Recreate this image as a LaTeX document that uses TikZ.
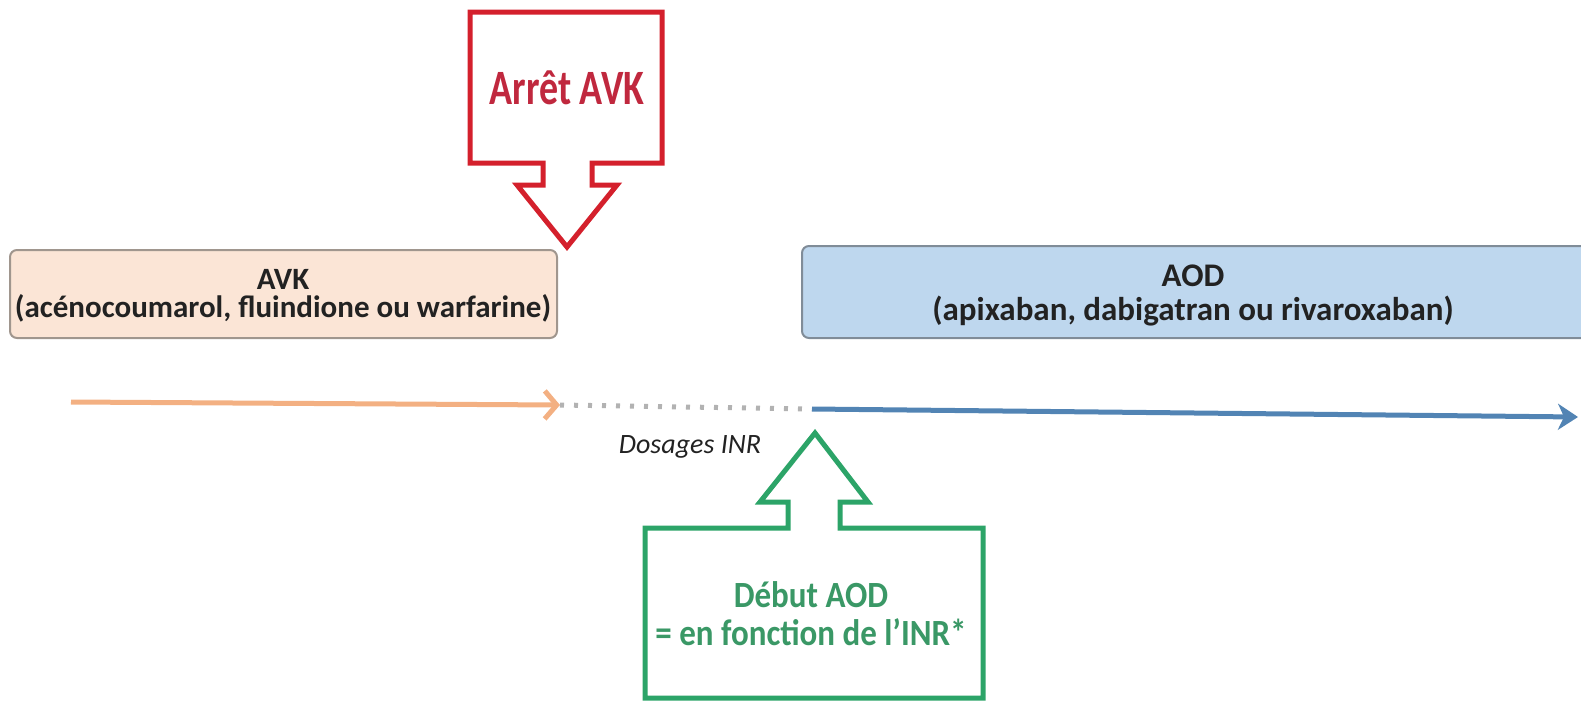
\documentclass[tikz,border=0pt]{standalone}
\usepackage{fontspec}
\setmainfont{Carlito}
\usetikzlibrary{arrows.meta}
\definecolor{calloutred}{RGB}{212,32,44}
\definecolor{textred}{RGB}{192,40,62}
\definecolor{calloutgreen}{RGB}{44,164,104}
\definecolor{textgreen}{RGB}{58,152,102}
\definecolor{avkfill}{RGB}{251,229,214}
\definecolor{avkline}{RGB}{160,150,142}
\definecolor{aodfill}{RGB}{190,215,238}
\definecolor{aodline}{RGB}{128,140,152}
\definecolor{avkarrow}{RGB}{243,176,130}
\definecolor{aodarrow}{RGB}{82,132,180}
\definecolor{inrdots}{RGB}{178,178,178}
\definecolor{bodytext}{RGB}{34,34,34}
\tikzset{
  callout/.style={line width=5pt, line join=miter, fill=white},
  drugbox/.style={line width=2pt, rounded corners=7pt},
  drugtext/.style={text=bodytext, inner sep=0pt, anchor=base},
  avkfont/.style={font=\bfseries\fontsize{31}{36}\selectfont},
  aodfont/.style={font=\bfseries\fontsize{33}{38}\selectfont},
  calltext/.style={font=\bfseries, align=center, inner sep=0pt},
  timeline/.style={line width=5pt},
}
\begin{document}
\begin{tikzpicture}[x=1pt,y=-1pt]
\useasboundingbox (0,0) rectangle (1581,702);

% drug boxes
\draw[drugbox, fill=avkfill, draw=avkline] (10,250) rectangle (557,338);
\node[drugtext, avkfont] (avk) at (283,289) {AVK};
\node[drugtext, avkfont] (avkdrugs) at (283,317) {(acénocoumarol, fluindione ou warfarine)};
\draw[drugbox, fill=aodfill, draw=aodline] (802,246) rectangle (1590,338);
\node[drugtext, aodfont] (aod) at (1193,286) {AOD};
\node[drugtext, aodfont] (aoddrugs) at (1193,320) {(apixaban, dabigatran ou rivaroxaban)};

% stop callout pointing down
\draw[callout, draw=calloutred]
  (470,12) -- (662,12) -- (662,163) -- (592,163) -- (592,185) -- (617,185)
  -- (567,247) -- (517,185) -- (543,185) -- (543,163) -- (470,163) -- cycle;
\node[calltext, text=textred] (stop) at (567,88)
  {\scalebox{1}[1.3]{\fontsize{38}{44}\selectfont Arrêt AVK}};

% start callout pointing up
\draw[callout, draw=calloutgreen]
  (815,433) -- (868,502) -- (840,502) -- (840,528) -- (983,528) -- (983,698)
  -- (645,698) -- (645,528) -- (788,528) -- (788,502) -- (760,502) -- cycle;
\node[calltext, text=textgreen] (start) at (811,614)
  {\scalebox{1}[1.12]{\fontsize{33}{40}\selectfont Début AOD}\\[10pt]
   \scalebox{1}[1.12]{\fontsize{33}{40}\selectfont = en fonction de l’INR*}};

% time line
\coordinate (avkfrom) at (71,402);
\coordinate (avkto) at (560,405);
\coordinate (aodfrom) at (812,409);
\coordinate (aodto) at (1578,417);
\draw[timeline, draw=avkarrow, -{Straight Barb[length=12pt,width=28pt,line width=5pt]}] (avkfrom) -- (avkto);
\draw[timeline, draw=inrdots, dash pattern=on 4pt off 10pt] (avkto) -- (aodfrom);
\draw[timeline, draw=aodarrow, -{Stealth[length=20pt,width=26pt,inset=6pt]}] (aodfrom) -- (aodto);
\node[font=\itshape\fontsize{28}{32}\selectfont, text=bodytext, inner sep=0pt] (inr) at (690,447) {Dosages INR};
\end{tikzpicture}
\end{document}
